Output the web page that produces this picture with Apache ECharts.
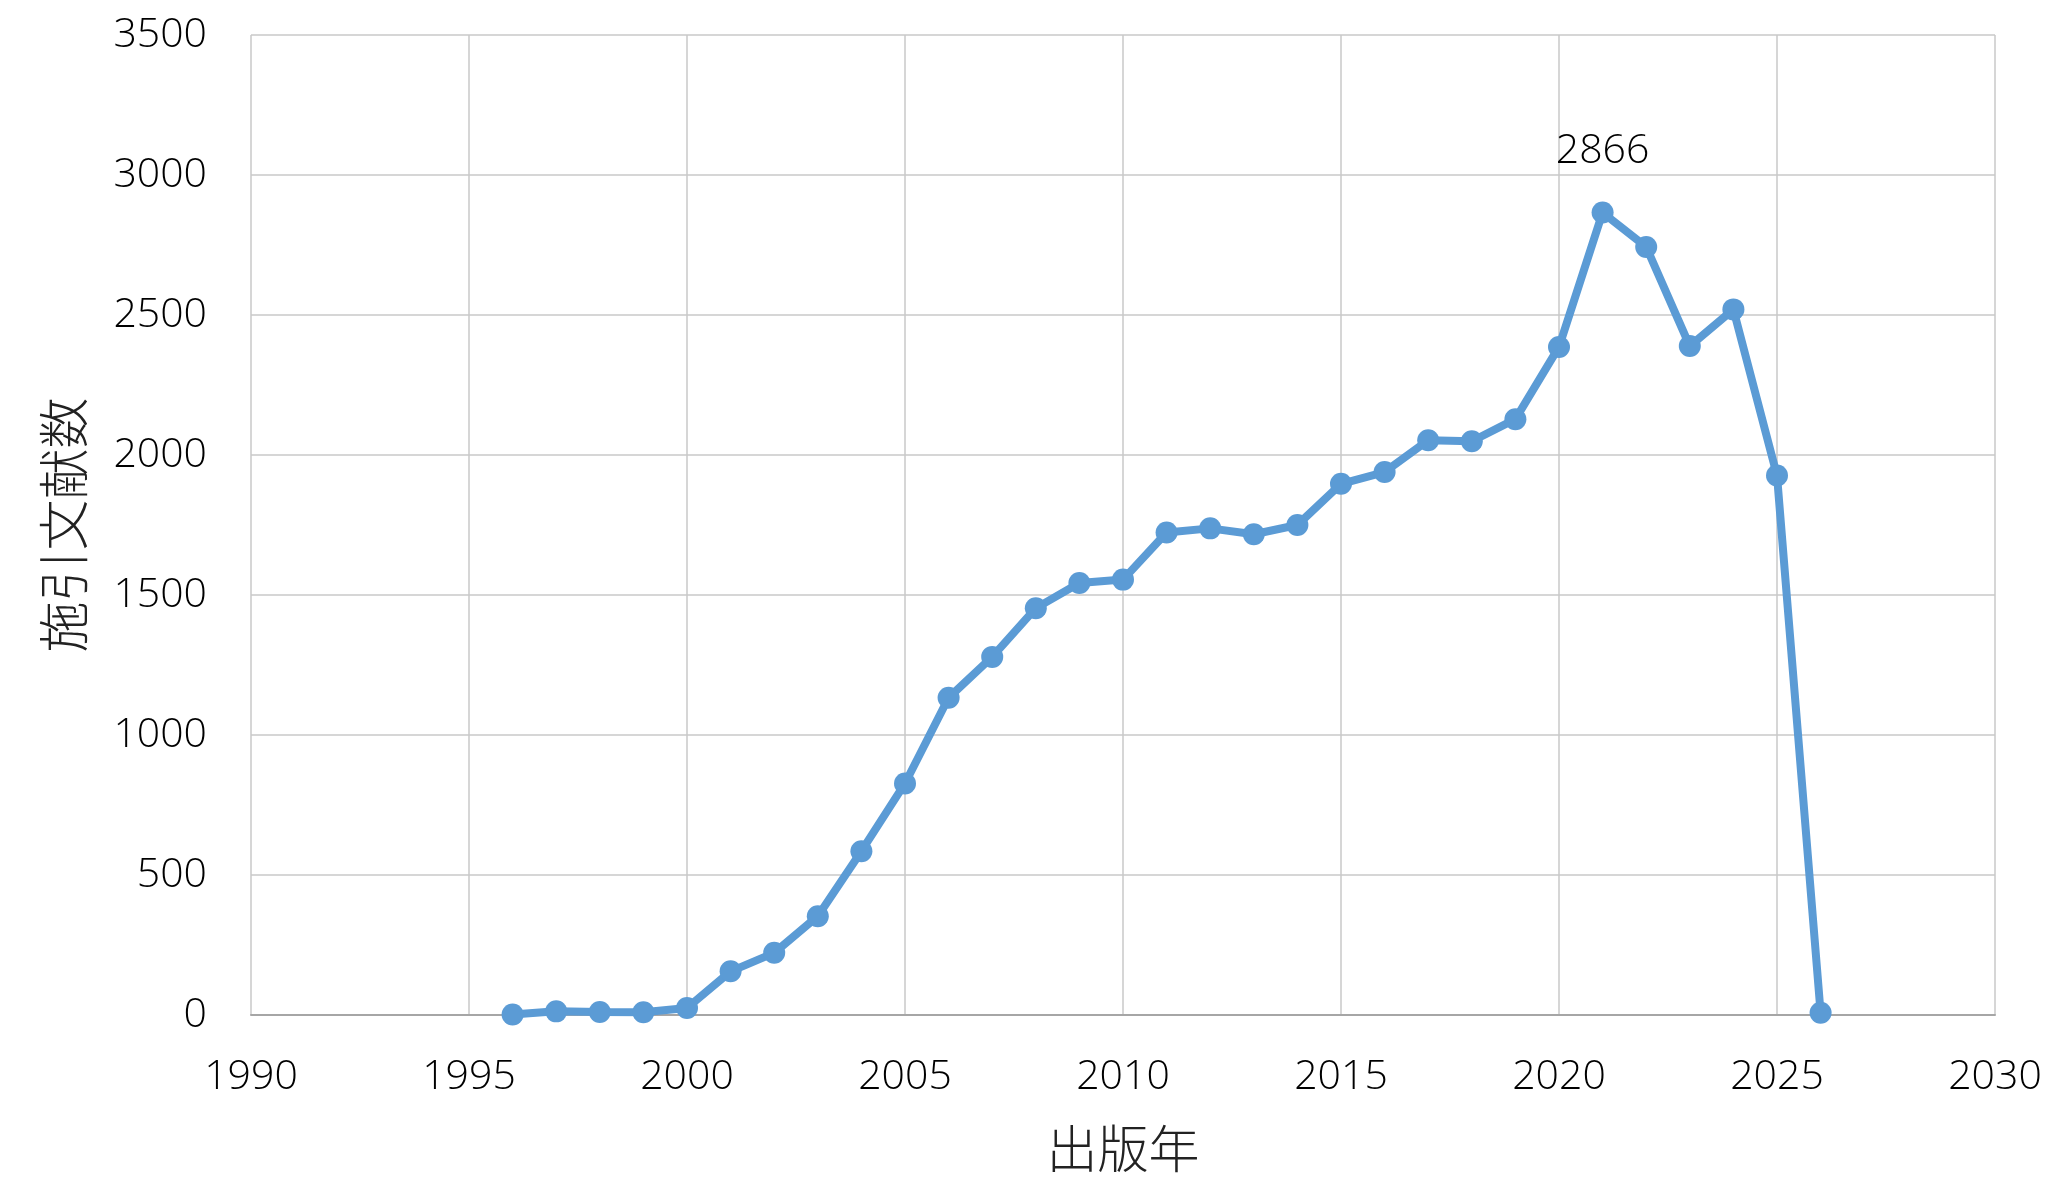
<!DOCTYPE html>
<html>
<head>
<meta charset="utf-8">
<script src="https://cdn.jsdelivr.net/npm/echarts@6/dist/echarts.min.js"></script>
<style>
html,body{margin:0;padding:0;background:#ffffff;}
#chart{width:2056px;height:1188px;}
</style>
</head>
<body>
<div id="chart"></div>
<script>
var years = [1996,1997,1998,1999,2000,2001,2002,2003,2004,2005,2006,2007,2008,2009,2010,2011,2012,2013,2014,2015,2016,2017,2018,2019,2020,2021,2022,2023,2024,2025,2026];
var counts = [2,13,11,10,25,156,222,353,585,827,1133,1279,1453,1543,1555,1723,1738,1717,1750,1897,1939,2053,2049,2128,2386,2866,2743,2389,2520,1927,8];
var labeledYear = 2021;
var xAxisName = '出版年';
var yAxisName = '施引文献数';

var fontFam = "'Open Sans', 'Noto Sans', sans-serif";
var cjkFam = "'Noto Sans CJK JP', 'Noto Sans CJK SC', sans-serif";

var seriesData = years.map(function (y, i) {
  var item = { value: [y, counts[i]] };
  if (y === labeledYear) {
    item.label = { show: true, position: 'top', distance: 30, formatter: String(counts[i]) };
  }
  return item;
});

var chart = echarts.init(document.getElementById('chart'));
chart.setOption({
  backgroundColor: '#ffffff',
  animation: false,
  grid: { left: 251, right: 61, top: 35, bottom: 173, containLabel: false },
  xAxis: {
    type: 'value', min: 1990, max: 2030, interval: 5,
    name: xAxisName, nameLocation: 'middle', nameGap: 108,
    nameTextStyle: { fontFamily: cjkFam, fontSize: 51, color: '#222222', fontWeight: 300 },
    axisLine: { show: true, lineStyle: { color: '#a6a6a6', width: 2 } },
    axisTick: { show: false },
    axisLabel: { margin: 42, fontFamily: fontFam, fontWeight: 300, fontSize: 41, color: '#000000', formatter: function (v) { return String(v); } },
    splitLine: { show: true, lineStyle: { color: '#c8c8c8', width: 1.5 } }
  },
  yAxis: {
    type: 'value', min: 0, max: 3500, interval: 500,
    name: yAxisName, nameLocation: 'middle', nameGap: 162, nameRotate: 90,
    nameTextStyle: { fontFamily: cjkFam, fontSize: 51, color: '#222222', fontWeight: 300 },
    axisLine: { show: false },
    axisTick: { show: false },
    axisLabel: { margin: 44, fontFamily: fontFam, fontWeight: 300, fontSize: 41, color: '#000000', formatter: function (v) { return String(v); } },
    splitLine: { show: true, lineStyle: { color: '#c8c8c8', width: 1.5 } }
  },
  series: [{
    type: 'line',
    data: seriesData,
    symbol: 'circle',
    symbolSize: 22,
    showAllSymbol: true,
    lineStyle: { color: '#5b9bd5', width: 8 },
    itemStyle: { color: '#5b9bd5' },
    label: { show: false, fontFamily: fontFam, fontWeight: 300, fontSize: 41, color: '#000000' },
    z: 3
  }]
});
</script>
</body>
</html>
